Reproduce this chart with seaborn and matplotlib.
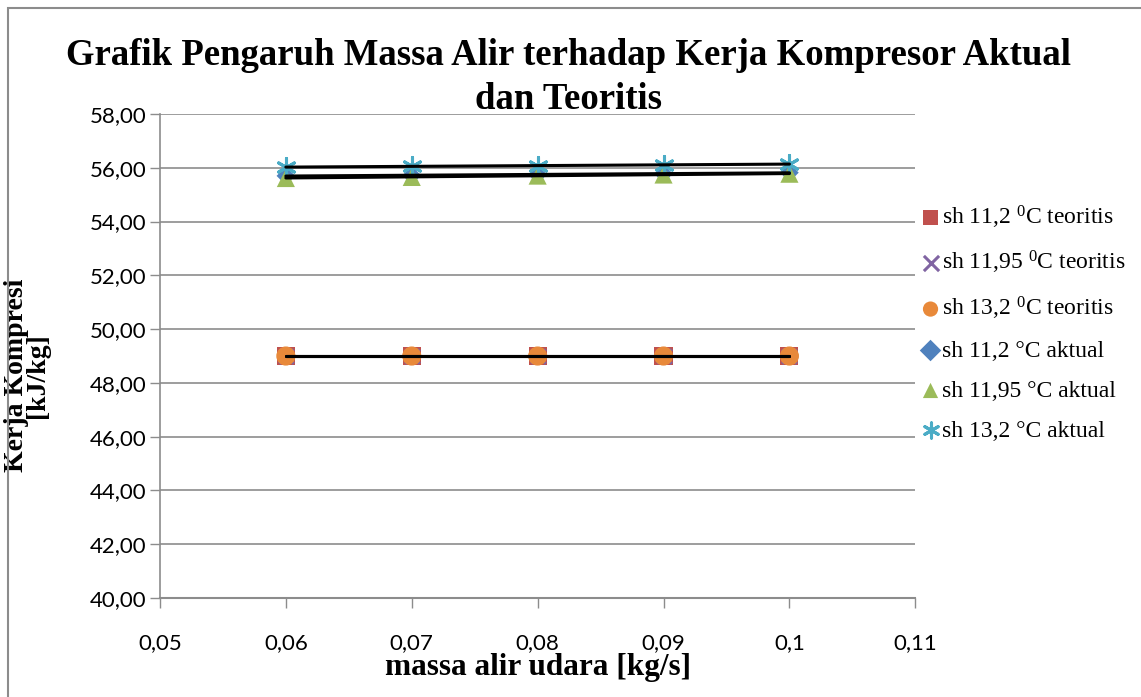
import numpy as np
import pandas as pd
import matplotlib
matplotlib.use("Agg")
import matplotlib.pyplot as plt
import seaborn as sns
from matplotlib.patches import Rectangle

# ---------------- data ----------------
mass_flow = [0.06, 0.07, 0.08, 0.09, 0.10]
sh112_teoritis = [49.00, 49.00, 49.00, 49.00, 49.00]
sh1195_teoritis = [49.00, 49.00, 49.00, 49.00, 49.00]
sh132_teoritis = [49.00, 49.00, 49.00, 49.00, 49.00]
sh112_aktual = [55.70, 55.72, 55.75, 55.78, 55.82]
sh1195_aktual = [55.62, 55.66, 55.71, 55.75, 55.78]
sh132_aktual = [56.03, 56.05, 56.08, 56.11, 56.14]

series_names = [
    r"sh 11,2 $^{0}$C teoritis",
    r"sh 11,95 $^{0}$C teoritis",
    r"sh 13,2 $^{0}$C teoritis",
    "sh 11,2 °C aktual",
    "sh 11,95 °C aktual",
    "sh 13,2 °C aktual",
]
series_values = [sh112_teoritis, sh1195_teoritis, sh132_teoritis,
                 sh112_aktual, sh1195_aktual, sh132_aktual]

x_ticks = [0.05, 0.06, 0.07, 0.08, 0.09, 0.10, 0.11]
x_tick_labels = ["0,05", "0,06", "0,07", "0,08", "0,09", "0,1", "0,11"]
y_ticks = [40, 42, 44, 46, 48, 50, 52, 54, 56, 58]
y_tick_labels = ["40,00", "42,00", "44,00", "46,00", "48,00", "50,00",
                 "52,00", "54,00", "56,00", "58,00"]

title_lines = ["Grafik Pengaruh Massa Alir terhadap Kerja Kompresor Aktual",
               "dan Teoritis"]
x_label = "massa alir udara [kg/s]"
y_label = "Kerja Kompresi\n[kJ/kg]"

# ---------------- styles ----------------
colors = ["#C0504D", "#8064A2", "#E8893A", "#4F81BD", "#9BBB59", "#4BACC6"]
markers = ["s", "x", "o", "D", "^", (6, 2, 0)]
msizes = [170, 110, 190, 90, 170, 170]

df = pd.DataFrame({
    "x": np.tile(mass_flow, len(series_names)),
    "y": np.concatenate(series_values),
    "series": np.repeat(series_names, len(mass_flow)),
})

sns.set_theme(style="white")
plt.rcParams["font.family"] = ["Liberation Serif", "DejaVu Serif"]
plt.rcParams["mathtext.fontset"] = "custom"
plt.rcParams["mathtext.rm"] = "Liberation Serif"
plt.rcParams["mathtext.it"] = "Liberation Serif"
plt.rcParams["text.color"] = "black"
plt.rcParams["axes.labelcolor"] = "black"
plt.rcParams["xtick.labelcolor"] = "black"
plt.rcParams["ytick.labelcolor"] = "black"

fig = plt.figure(figsize=(11.41, 6.97), dpi=100)
ax = fig.add_axes([0.1402, 0.142, 0.662, 0.6944])

# chart border
fig.patches.append(Rectangle((0.007, -0.01), 1.0, 0.998, transform=fig.transFigure,
                             fill=False, edgecolor="#8C8C8C", linewidth=1.5))

for name, col, mk, ms in zip(series_names, colors, markers, msizes):
    sub = df[df["series"] == name]
    lw = 2.2 if mk == "x" or isinstance(mk, tuple) else 0
    sns.scatterplot(data=sub, x="x", y="y", ax=ax, color=col, marker=mk, s=ms,
                    linewidth=lw, edgecolor=col if lw else "none", label=name, zorder=3)

for name in series_names:
    sub = df[df["series"] == name]
    sns.regplot(data=sub, x="x", y="y", ax=ax, scatter=False, ci=None,
                truncate=True, line_kws=dict(color="black", linewidth=2.2, zorder=4))

ax.set_xlim(0.05, 0.11)
ax.set_ylim(40, 58)
ax.set_xticks(x_ticks)
ax.set_xticklabels(x_tick_labels, fontfamily="Lato", fontsize=16, color="black")
ax.set_yticks(y_ticks)
ax.set_yticklabels(y_tick_labels, fontfamily="Lato", fontsize=16, color="black")
ax.tick_params(axis="x", direction="out", length=7, width=1, color="#8C8C8C", pad=18, bottom=True)
ax.tick_params(axis="y", direction="out", length=7, width=1, color="#8C8C8C", pad=3, left=True)
ax.yaxis.grid(True, color="#8C8C8C", linewidth=1.2)
ax.xaxis.grid(False)
for side in ["top", "right"]:
    ax.spines[side].set_visible(False)
ax.spines["left"].set_color("#8C8C8C")
ax.spines["bottom"].set_color("#8C8C8C")
ax.spines["left"].set_linewidth(1.2)
ax.spines["bottom"].set_linewidth(1.5)

ax.set_xlabel(x_label, fontsize=22.5, fontweight="bold", labelpad=0, color="black")
ax.set_ylabel(y_label, fontsize=20, fontweight="bold", linespacing=0.8, color="black")
ax.yaxis.set_label_coords(-0.145, 0.46)

fig.text(0.498, 0.921, title_lines[0], ha="center", va="center",
         fontsize=26.5, fontweight="bold", color="black")
fig.text(0.498, 0.857, title_lines[1], ha="center", va="center",
         fontsize=26.5, fontweight="bold", color="black")

leg = ax.legend(loc="upper left", bbox_to_anchor=(0.992, 0.835), frameon=False,
                fontsize=17, labelspacing=0.78, handletextpad=0.0, handlelength=1.0,
                borderaxespad=0)
for t in leg.get_texts():
    t.set_color("black")
for h in leg.legend_handles:
    try:
        h.set_sizes([120])
    except Exception:
        pass

fig.savefig("out.png", dpi=100)
